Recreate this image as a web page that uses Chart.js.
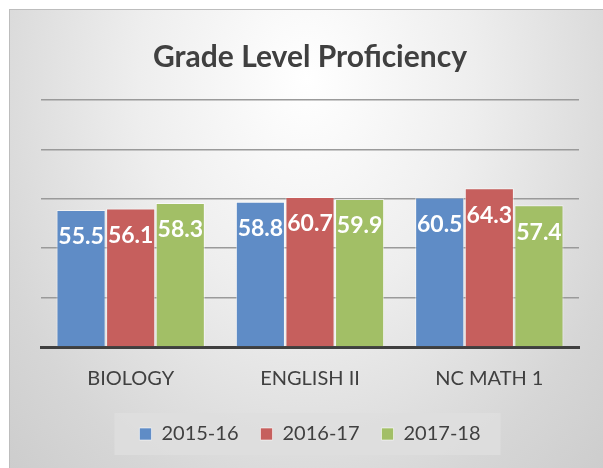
<!DOCTYPE html>
<html>
<head>
<meta charset="utf-8">
<script src="https://cdn.jsdelivr.net/npm/chart.js@4/dist/chart.umd.min.js"></script>
<style>
  html, body { margin: 0; padding: 0; background: #fff; }
  #frame {
    position: absolute; left: 9px; top: 9px; width: 594px; height: 459px;
    border-left: 1px solid #bdbdbd; border-top: 1px solid #bdbdbd;
    box-sizing: border-box;
    background: radial-gradient(ellipse at 50% 15%, #ffffff 0%, #eeeeee 40%, #d6d6d6 80%, #cdcdcd 100%);
  }
</style>
</head>
<body>
<div id="frame"><canvas id="chart" width="593" height="458"></canvas></div>
<script>
const subjects = ['BIOLOGY', 'ENGLISH II', 'NC MATH 1'];
const years = ['2015-16', '2016-17', '2017-18'];
const y2015 = [55.5, 58.8, 60.5];
const y2016 = [56.1, 60.7, 64.3];
const y2017 = [58.3, 59.9, 57.4];
const barColors = ['#5f8cc6', '#c65f5d', '#a2bf66'];

const textColor = '#404040';
const fontFamily = 'Lato, "Open Sans", sans-serif';

// white numbers near top of each bar
const valueLabels = {
  id: 'valueLabels',
  afterDatasetsDraw(chart) {
    const ctx = chart.ctx;
    ctx.save();
    ctx.font = 'bold 23px ' + fontFamily;
    ctx.fillStyle = '#ffffff';
    ctx.textAlign = 'center';
    ctx.textBaseline = 'middle';
    chart.data.datasets.forEach(function(ds, i) {
      chart.getDatasetMeta(i).data.forEach(function(bar, j) {
        ctx.fillText(ds.data[j].toFixed(1), bar.x, bar.y + 27);
      });
    });
    ctx.restore();
  }
};

// grey box behind legend items
const legendBox = {
  id: 'legendBox',
  beforeDraw(chart) {
    const boxes = chart.legend.legendHitBoxes;
    if (!boxes || !boxes.length) return;
    let l = Infinity, r = -Infinity, t = Infinity, b = -Infinity;
    boxes.forEach(function(h) {
      l = Math.min(l, h.left); r = Math.max(r, h.left + h.width);
      t = Math.min(t, h.top); b = Math.max(b, h.top + h.height);
    });
    const ctx = chart.ctx;
    ctx.save();
    ctx.fillStyle = 'rgba(222,222,222,0.85)';
    ctx.fillRect(l - 25, t - 11, (r - l) + 45, (b - t) + 22);
    ctx.restore();
  }
};

new Chart(document.getElementById('chart'), {
  type: 'bar',
  data: {
    labels: subjects,
    datasets: [
      { label: years[0], data: y2015, backgroundColor: barColors[0] },
      { label: years[1], data: y2016, backgroundColor: barColors[1] },
      { label: years[2], data: y2017, backgroundColor: barColors[2] }
    ]
  },
  options: {
    responsive: false,
    animation: false,
    layout: { padding: { left: 31, right: 24, top: 0, bottom: 14 } },
    datasets: {
      bar: {
        categoryPercentage: 0.83,
        barPercentage: 0.99,
        borderColor: 'rgba(255,255,255,0.55)',
        borderWidth: 1
      }
    },
    plugins: {
      title: {
        display: true,
        text: 'Grade Level Proficiency',
        color: textColor,
        font: { family: fontFamily, size: 30, weight: 'bold' },
        padding: { top: 29, bottom: 25 }
      },
      legend: {
        position: 'bottom',
        labels: {
          color: textColor,
          font: { family: fontFamily, size: 20 },
          boxWidth: 12,
          boxHeight: 12,
          padding: 22
        }
      },
      tooltip: { enabled: false }
    },
    scales: {
      x: {
        grid: { display: false },
        border: { color: '#3f3f3f', width: 3 },
        ticks: {
          color: textColor,
          font: { family: fontFamily, size: 20 },
          padding: 11.5
        }
      },
      y: {
        min: 0,
        max: 100,
        ticks: { display: false, stepSize: 20 },
        border: { display: false },
        grid: { color: '#9a9a9a', lineWidth: 1.5, drawTicks: false }
      }
    }
  },
  plugins: [legendBox, valueLabels]
});
</script>
</body>
</html>
